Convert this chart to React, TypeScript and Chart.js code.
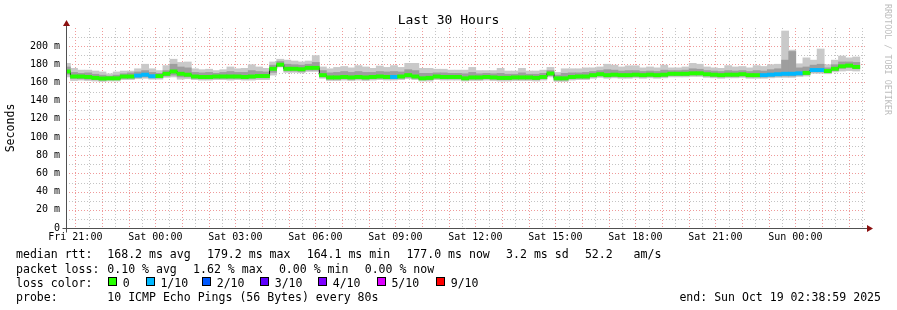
import React, { useEffect, useRef } from 'react';
import { Chart, registerables } from 'chart.js';

Chart.register(...registerables);

// ---------------- data ----------------
const bucketMinutes = 16;
const firstBoundaryMinutes = 10;
const spanMinutes = 1800;
const firstGridMinutes = 21 + 1 / 60; // Fri 21:00 after start Fri 20:38:59
const gridStepMinutes = 30;
const labelEvery = 6;
const yMax = 219.8;

const medianMs = [
  172, 166.5, 166.5, 166, 165, 164.3, 164.5, 164.5, 166.5, 166.5,
  167.5, 168.5, 166.8, 167, 169.5, 172, 169.5, 168.5, 166.5, 166,
  166, 166.5, 166.5, 166.5, 166.5, 166, 166.5, 167, 167, 175,
  179.5, 175, 175, 174.5, 176, 176, 168, 165.5, 165.5, 166,
  165.5, 166, 165.5, 166, 166.5, 166, 166, 166.5, 168, 166.5,
  164.5, 165, 166.5, 166, 166, 166, 164.5, 165.5, 165.5, 166,
  165.5, 165, 165, 165.5, 165.5, 165.5, 165, 166, 169.8, 164.5,
  164.5, 166, 166.5, 166.5, 168, 169, 168, 168.5, 168, 168,
  168.5, 168, 168.5, 168, 168.5, 169.5, 169.5, 169.5, 170, 170,
  169, 168.5, 168, 168.5, 168.5, 169, 168, 168, 168, 168.5,
  169, 169.5, 169.5, 170, 170.5, 173.6, 173.6, 172.5, 175, 177.7, 178.5, 177,
];
const maxMs = [
  181, 175.5, 173.5, 173.5, 172.5, 171.5, 169.5, 171.5, 172.5, 172.5,
  175, 180, 175, 173, 178.5, 185.5, 182, 182.5, 175, 174,
  174.5, 173, 174, 177, 175, 175.5, 179.5, 177, 175.5, 182.5,
  185.5, 184.5, 183.5, 182.5, 183.5, 189.5, 177, 175, 176.5, 177.5,
  176, 178.5, 177, 175.5, 178, 176.5, 178.5, 176.5, 181, 181,
  175.5, 175.5, 174.5, 174.5, 173.5, 173.5, 173.5, 176.5, 173, 173,
  173, 175.5, 172.5, 172.5, 175.5, 172.5, 172.5, 173.5, 176.5, 171,
  175, 175, 175, 176, 176, 177, 180, 179, 177, 178.3,
  178.3, 176, 177, 176, 179, 176, 176, 177, 181, 180,
  177, 176, 175.5, 178.5, 177, 177.5, 176, 178.5, 177.5, 179.5,
  180, 216.5, 195.5, 180.5, 187, 184.5, 196.7, 179.5, 184.5, 189, 187, 188,
];
const upperMs = [
  177, 171, 170, 170.5, 169, 168, 167, 168, 169.5, 170.5,
  171.5, 173, 171, 170, 173, 180, 177, 176, 171, 170.5,
  171, 170, 171, 172, 171, 171, 173, 172, 171.5, 179,
  183, 180, 179.5, 179, 180, 182, 173, 170.5, 171, 172,
  171, 172, 171, 171, 172, 171.5, 172, 171.5, 174, 173,
  170, 170, 170.5, 170.5, 170, 170, 169.5, 171, 169.5, 170,
  169.5, 170, 169, 169, 170.5, 169, 169, 170, 173, 168,
  170, 170.5, 170.5, 171, 172, 173, 174, 173.5, 172.5, 173,
  173, 172, 172.5, 172, 173.5, 173, 173, 173.5, 175, 174.5,
  173, 172.5, 172, 173, 172.5, 173, 172, 173, 172.5, 174,
  175, 184.5, 194, 176, 177, 179, 180, 176, 179.5, 182.5, 182.5, 182,
];
const lowerMs = [
  169, 164.5, 164, 163.5, 163, 162.5, 163, 163, 164.5, 164.5,
  165.5, 166, 165, 165, 167, 168, 166, 166, 164.5, 164,
  164, 164.5, 164.5, 164.5, 164.5, 164, 164.5, 165, 165, 171,
  178, 172.5, 172.5, 172, 173.5, 173.5, 166, 163.5, 163.5, 164,
  163.5, 164, 163.5, 164, 164.5, 164, 164, 164.5, 165.5, 164.5,
  163, 163, 164.5, 164, 164, 164, 163, 163.5, 163.5, 164,
  163.5, 163, 163, 163.5, 163.5, 163.5, 163, 164, 167.5, 162.5,
  162.5, 164, 164.5, 164.5, 166, 167, 166, 166.5, 166, 166,
  166.5, 166, 166.5, 166, 166.5, 167.5, 167.5, 167.5, 168, 168,
  167, 166.5, 166, 166.5, 166.5, 167, 166, 166, 166, 166.5,
  167, 167, 167, 168, 168.5, 171.5, 171.5, 171, 173, 175.5, 176.5, 175,
];
const minMs = [
  166, 162, 162.5, 162, 161.5, 161, 161.5, 161.5, 163, 163,
  164, 164.5, 163.5, 163.5, 165.5, 166, 163.5, 164, 163, 162.5,
  162.5, 163, 163, 162.5, 163, 162.5, 162.5, 163, 163, 168,
  177, 171, 171, 170.5, 172, 172, 164.5, 162, 162, 162.5,
  162, 162.5, 162, 162.5, 163, 162.5, 162.5, 163, 164, 163,
  161.5, 161.5, 163, 162.5, 162.5, 162.5, 161.5, 162, 162, 162.5,
  162, 161.5, 161.5, 162, 162, 162, 161.5, 162.5, 166, 161,
  161, 162.5, 163, 163, 164.5, 165.5, 164.5, 165, 164.5, 164.5,
  165, 164.5, 165, 164.5, 165, 166, 166, 166, 166.5, 166.5,
  165.5, 165, 164.5, 165, 165, 165.5, 164.5, 164.5, 164.5, 165,
  165.5, 165.5, 165.5, 166.5, 167, 170, 170, 169.5, 171.5, 172.5, 173, 172.5,
];
const lossLevel = [
  0, 0, 0, 0, 0, 0, 0, 0, 0, 0,
  1, 1, 1, 0, 0, 0, 0, 0, 0, 0,
  0, 0, 0, 0, 0, 0, 0, 0, 0, 0,
  0, 0, 0, 0, 0, 0, 0, 0, 0, 0,
  0, 0, 0, 0, 0, 0, 1, 0, 0, 0,
  0, 0, 0, 0, 0, 0, 0, 0, 0, 0,
  0, 0, 0, 0, 0, 0, 0, 0, 0, 0,
  0, 0, 0, 0, 0, 0, 0, 0, 0, 0,
  0, 0, 0, 0, 0, 0, 0, 0, 0, 0,
  0, 0, 0, 0, 0, 0, 0, 0, 1, 1,
  1, 1, 1, 1, 0, 1, 1, 0, 0, 0, 0, 0,
];

const lossLabels = ['0', '1/10', '2/10', '3/10', '4/10', '5/10', '9/10'];
const lossColors = ['#26ff00', '#00b8ff', '#0059ff', '#5e00ff', '#7e00ff', '#dd00ff', '#ff0000'];

const xTickLabels = [
  'Fri 21:00', 'Sat 00:00', 'Sat 03:00', 'Sat 06:00', 'Sat 09:00',
  'Sat 12:00', 'Sat 15:00', 'Sat 18:00', 'Sat 21:00', 'Sun 00:00',
];
const yTickValues = [0, 10, 20, 30, 40, 50, 60, 70, 80, 90, 100, 110, 120, 130, 140, 150, 160, 170, 180, 190, 200, 210];
const yTickLabels = ['0', '', '20 m', '', '40 m', '', '60 m', '', '80 m', '', '100 m', '', '120 m', '', '140 m', '', '160 m', '', '180 m', '', '200 m', ''];

const titleText = 'Last 30 Hours';
const yAxisTitle = 'Seconds';
const medianStats = ['168.2 ms avg', '179.2 ms max', '164.1 ms min', '177.0 ms now', '3.2 ms sd', '52.2   am/s'];
const lossStats = ['0.10 % avg', '1.62 % max', '0.00 % min', '0.00 % now'];
const probeText = '10 ICMP Echo Pings (56 Bytes) every 80s';
const endText = 'end: Sun Oct 19 02:38:59 2025';
const watermark = 'RRDTOOL / TOBI OETIKER';

// ---------------- layout / style ----------------
const MONO = '"DejaVu Sans Mono", monospace';
const LEG_SIZE = 11.56;
const medianStatX = [107.3, 207, 306.7, 406.4, 506.1, 584.9];
const lossStatX = [107.3, 193.1, 278.9, 364.7];
const lossBoxX = [108, 145.7, 202, 260, 318, 376.7, 436];
const lineBaselines = [258.3, 272.5, 286.5, 300.5];
const bandHalf = 1.8;

const xGridMinutes: number[] = [];
for (let v = firstGridMinutes; v <= spanMinutes; v += gridStepMinutes) xGridMinutes.push(v);

const rrdPlugin = {
  id: 'rrdDecor',
  beforeDatasetsDraw(chart: any) {
    const { ctx, chartArea: a, scales } = chart;
    const x = scales.x, y = scales.y;
    ctx.save();
    ctx.lineWidth = 1;
    ctx.setLineDash([1, 2]);
    const drawH = (v: number, color: string) => {
      const py = Math.round(y.getPixelForValue(v)) + 0.5;
      ctx.strokeStyle = color;
      ctx.beginPath(); ctx.moveTo(a.left, py); ctx.lineTo(a.right, py); ctx.stroke();
    };
    const drawV = (v: number, color: string) => {
      const px = Math.round(x.getPixelForValue(v)) + 0.5;
      ctx.strokeStyle = color;
      ctx.beginPath(); ctx.moveTo(px, a.top); ctx.lineTo(px, a.bottom); ctx.stroke();
    };
    const minor = '#c4c4c4';
    const major = '#ef9a9a';
    yTickValues.forEach((v) => { if (v > 0 && v % 20 !== 0) drawH(v, minor); });
    xGridMinutes.forEach((v, k) => { if (k % 2 === 1) drawV(v, minor); });
    yTickValues.forEach((v) => { if (v > 0 && v % 20 === 0) drawH(v, major); });
    xGridMinutes.forEach((v, k) => { if (k % 2 === 0) drawV(v, major); });
    ctx.restore();
  },
  afterDatasetsDraw(chart: any) {
    const { ctx, chartArea: a } = chart;
    ctx.save();
    ctx.setLineDash([]);
    ctx.lineWidth = 1;
    ctx.strokeStyle = '#505050';
    const ax = Math.round(a.left) + 0.5;
    const ay = Math.round(a.bottom) + 0.5;
    ctx.beginPath();
    ctx.moveTo(ax, ay + 4); ctx.lineTo(ax, a.top - 4);
    ctx.moveTo(ax - 4, ay); ctx.lineTo(a.right + 2, ay);
    ctx.stroke();
    ctx.fillStyle = '#8b1010';
    ctx.beginPath();
    ctx.moveTo(ax - 3.5, a.top - 2); ctx.lineTo(ax + 3.5, a.top - 2); ctx.lineTo(ax, a.top - 8); ctx.closePath();
    ctx.fill();
    ctx.beginPath();
    ctx.moveTo(a.right + 1, ay - 3.5); ctx.lineTo(a.right + 1, ay + 3.5); ctx.lineTo(a.right + 7, ay); ctx.closePath();
    ctx.fill();
    ctx.restore();
  },
};

export default function App() {
  const ref = useRef<HTMLCanvasElement>(null);

  useEffect(() => {
    const canvas = ref.current;
    if (!canvas) return;
    const centers = medianMs.map((_, j) => firstBoundaryMinutes + bucketMinutes * (j - 0.5));
    const band = (lo: number[], hi: number[], color: any, order: number, label: string) => ({
      type: 'bar' as const,
      label,
      order,
      data: centers.map((x, j) => ({ x, y: [lo[j], hi[j]] })),
      backgroundColor: color,
      borderWidth: 0,
      barPercentage: 1,
      categoryPercentage: 1,
      grouped: false,
      clip: 0,
    });
    const chart = new Chart(canvas, {
      type: 'bar',
      data: {
        datasets: [
          band(minMs, maxMs, '#c9c9c9', 5, 'smoke outer') as any,
          band(lowerMs, upperMs, '#9e9e9e', 4, 'smoke inner') as any,
          {
            type: 'line',
            label: 'median',
            order: 3,
            data: centers.map((x, j) => ({ x, y: medianMs[j] })),
            stepped: 'middle',
            borderColor: '#202020',
            borderWidth: 1,
            pointRadius: 0,
            fill: false,
            clip: 0,
          } as any,
          band(
            medianMs.map((m) => m - bandHalf),
            medianMs.map((m) => m + bandHalf),
            lossLevel.map((l) => lossColors[l]),
            2,
            'loss',
          ) as any,
        ],
      },
      options: {
        animation: false,
        responsive: false,
        maintainAspectRatio: false,
        layout: { padding: { top: 28, right: 31, bottom: 62, left: 0 } },
        plugins: { legend: { display: false }, tooltip: { enabled: false }, title: { display: false } },
        scales: {
          x: {
            type: 'linear',
            min: 0,
            max: spanMinutes,
            offset: false,
            grid: { display: false, drawTicks: false, offset: false },
            border: { display: false },
            afterFit: (s: any) => { s.height = 20; },
            afterBuildTicks: (s: any) => { s.ticks = xGridMinutes.map((v) => ({ value: v })); },
            ticks: {
              autoSkip: false,
              maxRotation: 0,
              minRotation: 0,
              padding: 3,
              color: '#000',
              font: { family: MONO, size: 10 },
              callback: (_v: any, i: number) => (i % labelEvery === 0 ? xTickLabels[i / labelEvery] : ''),
            },
          },
          y: {
            type: 'linear',
            min: 0,
            max: yMax,
            grid: { display: false, drawTicks: false },
            border: { display: false },
            afterFit: (s: any) => { s.width = 66; },
            afterBuildTicks: (s: any) => { s.ticks = yTickValues.map((v) => ({ value: v })); },
            title: {
              display: true,
              text: yAxisTitle,
              color: '#000',
              font: { family: MONO, size: LEG_SIZE },
              padding: { top: 4, bottom: 0 },
            },
            ticks: {
              autoSkip: false,
              padding: 6,
              color: '#000',
              font: { family: MONO, size: 10 },
              callback: (_v: any, i: number) => yTickLabels[i],
            },
          },
        },
      } as any,
      plugins: [rrdPlugin],
    });
    return () => chart.destroy();
  }, []);

  const txt = (left: number, baseline: number, s: string, extra: any = {}) => (
    <div
      key={`${left}-${baseline}-${s}`}
      style={{
        position: 'absolute', left, top: baseline - 11, fontFamily: MONO, fontSize: LEG_SIZE,
        lineHeight: '14px', whiteSpace: 'pre', color: '#000', ...extra,
      }}
    >{s}</div>
  );

  return (
    <div style={{ position: 'fixed', left: 0, top: 0, width: 897, height: 310, background: '#fff', overflow: 'hidden' }}>
      <canvas ref={ref} width={897} height={310} style={{ position: 'absolute', left: 0, top: 0, width: 897, height: 310 }} />
      <div style={{ position: 'absolute', left: 0, top: 11.5, width: 897, textAlign: 'center', fontFamily: MONO, fontSize: 13, lineHeight: '16px', color: '#000', whiteSpace: 'pre' }}>{titleText}</div>
      <div style={{ position: 'absolute', left: 882, top: 4, width: 11, lineHeight: '11px', fontFamily: MONO, fontSize: 8.4, color: '#bdbdbd', writingMode: 'vertical-rl', whiteSpace: 'pre' }}>{watermark}</div>
      {txt(16, lineBaselines[0], 'median rtt:')}
      {medianStats.map((s, i) => txt(medianStatX[i], lineBaselines[0], s))}
      {txt(16, lineBaselines[1], 'packet loss:')}
      {lossStats.map((s, i) => txt(lossStatX[i], lineBaselines[1], s))}
      {txt(16, lineBaselines[2], 'loss color:')}
      {lossLabels.map((s, i) => (
        <React.Fragment key={s}>
          <div style={{ position: 'absolute', left: lossBoxX[i], top: lineBaselines[2] - 9.5, width: 9, height: 9, boxSizing: 'border-box', border: '1px solid #000', background: lossColors[i] }} />
          {txt(lossBoxX[i] + 14.7, lineBaselines[2], s)}
        </React.Fragment>
      ))}
      {txt(16, lineBaselines[3], 'probe:')}
      {txt(107.3, lineBaselines[3], probeText)}
      <div style={{ position: 'absolute', right: 897 - 881, top: lineBaselines[3] - 11, fontFamily: MONO, fontSize: LEG_SIZE, lineHeight: '14px', whiteSpace: 'pre', color: '#000' }}>{endText}</div>
    </div>
  );
}
